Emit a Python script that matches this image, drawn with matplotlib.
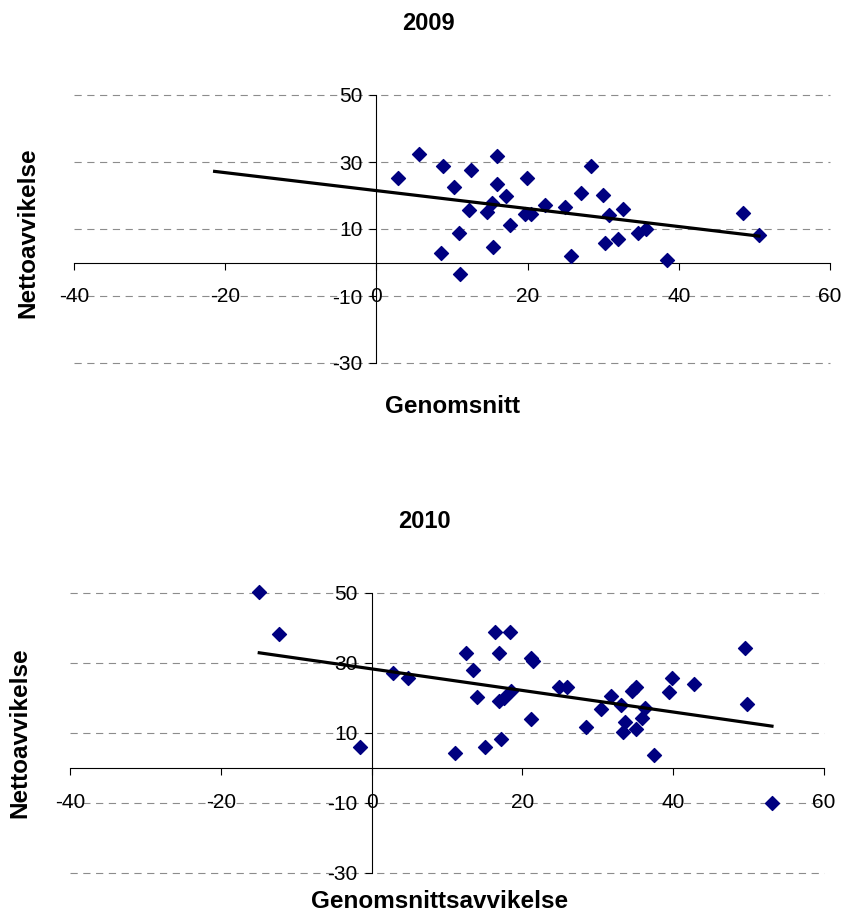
import numpy as np
import matplotlib
matplotlib.use("Agg")
import matplotlib.pyplot as plt

# 2009 data
x_2009 = [2.9, 5.6, 8.8, 8.6, 10.2, 10.9, 11.1, 12.5, 12.3, 14.6, 15.3, 15.4,
          16.0, 15.9, 17.2, 17.7, 19.9, 19.6, 20.5, 22.3, 24.9, 25.7, 27.0,
          28.4, 30.0, 30.8, 30.2, 31.9, 32.6, 34.6, 35.7, 38.4, 48.5, 50.6]
y_2009 = [25.3, 32.3, 28.7, 2.8, 22.4, 8.8, -3.5, 27.5, 15.8, 15.1, 17.9, 4.6,
          31.8, 23.5, 20.0, 11.2, 25.3, 14.6, 14.6, 17.3, 16.7, 1.8, 20.7,
          28.8, 20.2, 14.3, 5.8, 7.0, 16.0, 8.7, 9.9, 0.6, 14.7, 8.1]

# 2010 data
x_2010 = [-14.9, -12.3, -1.6, 2.9, 4.8, 11.1, 12.5, 13.5, 14.0, 15.1, 16.4,
          16.9, 16.9, 17.5, 17.2, 18.3, 18.5, 21.2, 21.4, 21.2, 24.9, 25.9,
          28.4, 30.4, 31.7, 33.1, 33.6, 33.3, 34.5, 35.0, 35.0, 35.8, 36.3,
          37.4, 39.5, 39.8, 42.7, 49.5, 49.8, 53.1]
y_2010 = [50.3, 38.2, 6.0, 27.1, 25.6, 4.3, 32.9, 27.9, 20.4, 6.0, 38.8,
          32.9, 19.2, 19.9, 8.4, 38.8, 22.1, 31.4, 30.7, 14.0, 23.2, 23.2,
          11.7, 16.9, 20.6, 18.1, 13.1, 10.4, 21.9, 23.2, 11.1, 14.2, 17.2,
          3.6, 21.6, 25.7, 24.0, 34.3, 18.2, -10.1]

x_ticks = [-40, -20, 0, 20, 40, 60]
y_ticks = [-30, -10, 10, 30, 50]

# trend line start (2009 line is drawn back past the data)
trend_start = {"2009": -21.4, "2010": None}

plt.rcParams['font.family'] = ['Liberation Sans', 'DejaVu Sans']
plt.rcParams['axes.unicode_minus'] = False

fig = plt.figure(figsize=(8.44, 9.17), dpi=100)


def draw(ax, xs, ys, start):
    xs = np.array(xs)
    ys = np.array(ys)
    ax.set_xlim(-40, 60)
    ax.set_ylim(-30, 50)
    for yt in y_ticks:
        ax.axhline(yt, color="#8c8c8c", lw=0.8, ls=(0, (6.5, 5)), zorder=0,
                   clip_on=False)
    ax.spines["left"].set_position(("data", 0))
    ax.spines["bottom"].set_position(("data", 0))
    ax.spines["top"].set_visible(False)
    ax.spines["right"].set_visible(False)
    ax.spines["left"].set_linewidth(0.8)
    ax.spines["bottom"].set_linewidth(0.8)
    ax.set_xticks(x_ticks)
    ax.set_yticks(y_ticks)
    ax.tick_params(axis="x", direction="out", length=5, pad=13, labelsize=15)
    ax.tick_params(axis="y", direction="out", length=5, pad=5, labelsize=15)
    ax.scatter(xs, ys, marker="D", s=50, color="#000080", zorder=3,
               clip_on=False)
    # linear trend line
    k, m = np.polyfit(xs, ys, 1)
    x0 = xs.min() if start is None else start
    tx = np.array([x0, xs.max()])
    ax.plot(tx, k * tx + m, color="black", lw=2.3, zorder=4)


ax1 = fig.add_axes([74 / 844, 1 - 363 / 917, 756 / 844, 268 / 917])
draw(ax1, x_2009, y_2009, trend_start["2009"])
ax2 = fig.add_axes([70 / 844, 1 - 873 / 917, 754 / 844, 280 / 917])
draw(ax2, x_2010, y_2010, trend_start["2010"])

fig.text(428 / 844, 1 - 24 / 917, "2009", ha="center", va="center",
         fontsize=17, fontweight="bold")
fig.text(452 / 844, 1 - 406 / 917, "Genomsnitt", ha="center", va="center",
         fontsize=17.5, fontweight="bold")
fig.text(28 / 844, 1 - 233 / 917, "Nettoavvikelse", ha="center", va="center",
         fontsize=17.5, fontweight="bold", rotation=90)

fig.text(424 / 844, 1 - 521 / 917, "2010", ha="center", va="center",
         fontsize=17, fontweight="bold")
fig.text(440 / 844, 1 - 901 / 917, "Genomsnittsavvikelse", ha="center",
         va="center", fontsize=17.5, fontweight="bold")
fig.text(20 / 844, 1 - 733 / 917, "Nettoavvikelse", ha="center", va="center",
         fontsize=17.5, fontweight="bold", rotation=90)

fig.savefig("out.png", dpi=100)
